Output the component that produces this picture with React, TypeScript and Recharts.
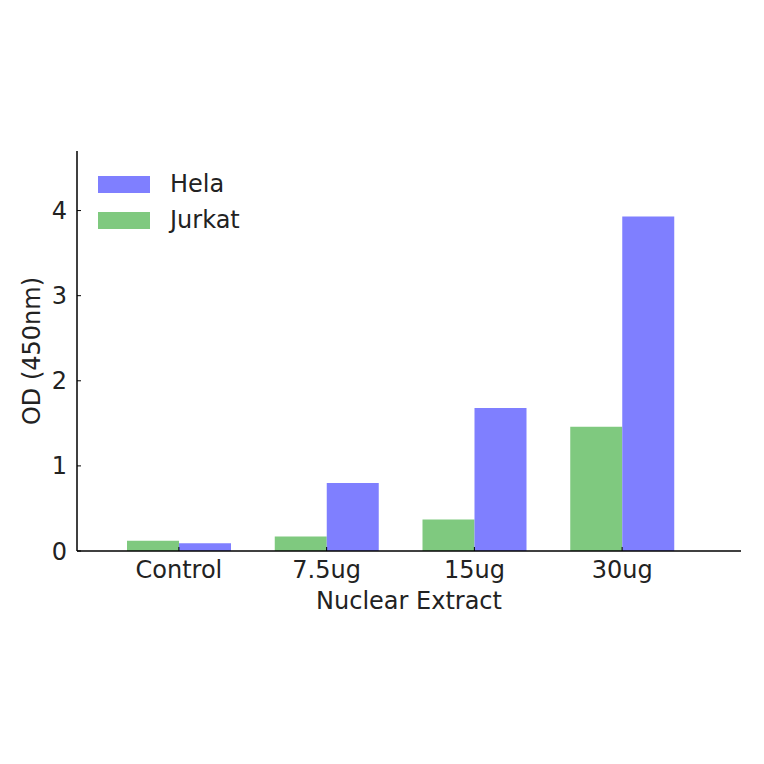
import { BarChart, Bar, XAxis, YAxis } from "recharts";

const categories = ["Control", "7.5ug", "15ug", "30ug"];
const jurkat = [0.12, 0.17, 0.37, 1.46];
const hela = [0.09, 0.80, 1.68, 3.93];
const yTicks = [0, 1, 2, 3, 4];

const data = categories.map((c, i) => ({ name: c, Jurkat: jurkat[i], Hela: hela[i] }));

const font = "'DejaVu Sans', sans-serif";
const fs = 24;

const legendItems = [
  { label: "Hela", color: "#7f7fff" },
  { label: "Jurkat", color: "#7fc97f" },
];

export default function App() {
  return (
    <div style={{ margin: -8, width: 764, height: 764, position: "relative" }}>
      <BarChart width={764} height={764} data={data}
        margin={{ top: 151, right: 23, bottom: 153, left: 0 }}
        barGap={0} barCategoryGap={22}>
        <XAxis dataKey="name" height={60} padding={{ left: 28, right: 45 }}
          tickSize={-4} tickMargin={14} axisLine={{ stroke: "#000", strokeWidth: 1.5 }}
          tickLine={{ stroke: "#000" }}
          tick={{ fontFamily: font, fontSize: fs, fill: "#222" }}
          label={{ value: "Nuclear Extract", position: "insideBottom", offset: 2, fontFamily: font, fontSize: fs, fill: "#222" }} />
        <YAxis width={77} domain={[0, 4.7]} ticks={yTicks} type="number" allowDataOverflow
          tickSize={-4} tickMargin={14} axisLine={{ stroke: "#000", strokeWidth: 1.5 }}
          tickLine={{ stroke: "#000" }}
          tick={{ fontFamily: font, fontSize: fs, fill: "#222" }}
          label={{ value: "OD (450nm)", angle: -90, position: "insideLeft", offset: 31, style: { textAnchor: "middle" }, fontFamily: font, fontSize: fs, fill: "#222" }} />
        <Bar dataKey="Jurkat" fill="#7fc97f" isAnimationActive={false} />
        <Bar dataKey="Hela" fill="#7f7fff" isAnimationActive={false} />
      </BarChart>
      <div style={{ position: "absolute", top: 166, left: 98, fontFamily: font, fontSize: fs, color: "#222" }}>
        {legendItems.map(it => (
          <div key={it.label} style={{ display: "flex", alignItems: "center", height: 36 }}>
            <div style={{ width: 52, height: 17, background: it.color, marginRight: 20 }} />
            <span>{it.label}</span>
          </div>
        ))}
      </div>
    </div>
  );
}
